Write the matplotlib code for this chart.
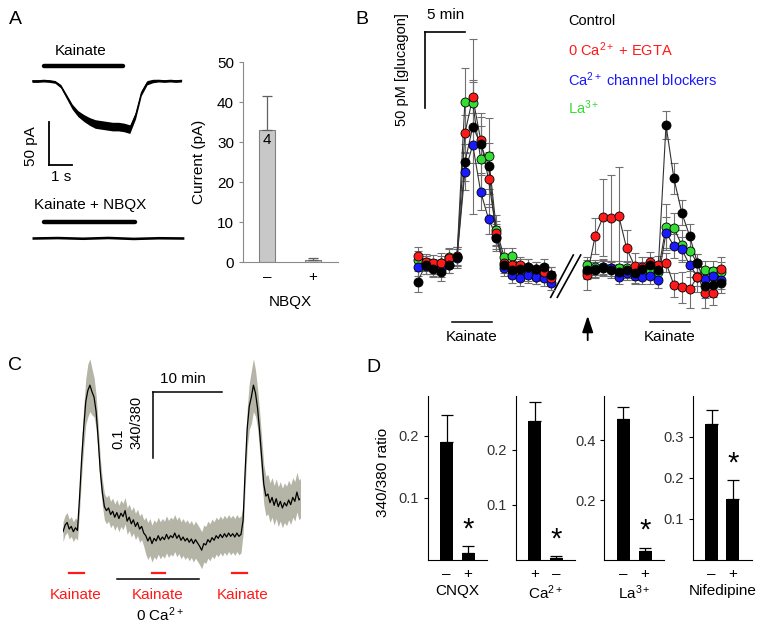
import numpy as np
import matplotlib
matplotlib.use('Agg')
import matplotlib.pyplot as plt

plt.rcParams['font.family'] = ['Liberation Sans', 'DejaVu Sans']
plt.rcParams['mathtext.fontset'] = 'custom'
plt.rcParams['mathtext.rm'] = 'Liberation Sans'
plt.rcParams['mathtext.it'] = 'Liberation Sans:italic'
plt.rcParams['mathtext.bf'] = 'Liberation Sans:bold'
plt.rcParams['font.size'] = 11

# ---- A: whole-cell current traces (s, pA) ----
a_t = [0, 0.25, 0.5, 0.75, 1.0, 1.25, 1.5, 1.75, 2.0, 2.25, 2.5, 2.75, 3.0, 3.25,
       3.5, 3.75, 4.0, 4.25, 4.5, 4.75, 5.0, 5.25, 5.5, 5.75, 6.0, 6.25, 6.5]
a_kai = [0, 0, 0.5, 0, -1, -6, -18, -30, -38, -43, -47, -50, -51, -52,
         -53, -53, -54, -56, -40, -14, -2, 0, 0.5, 0, 0.5, 0, 0.5]
a_kai_noise = [1.6, 1.6, 1.6, 1.6, 1.6, 2, 2.5, 3, 3.5, 4, 4.5, 5, 5, 5,
               5, 5, 5, 5, 4, 3, 2.5, 2, 1.6, 1.6, 1.6, 1.6, 1.6]
a_nbqx_t = [0, 1.1, 2.2, 3.3, 4.4, 5.5, 6.6]
a_nbqx = [0, 0.5, -0.3, 0.6, -0.5, 0.3, 0]
a_nbqx_noise = [1.5, 1.5, 1.5, 1.5, 1.5, 1.5, 1.5]

# A: summary bars
nbqx_labels = ['\u2013', '+']
nbqx_mean = [32.9, 0.6]
nbqx_err = [8.5, 0.3]

# ---- B: glucagon secretion (pM, baseline-relative) ----
b_ctrl_1 = [7.6, 18.5, 15.7, 14.1, 18.5, 23.9, 85.4, 108.7, 97.4, 83.3, 35.9, 18.5, 15.2, 15.7, 17.4, 15.7, 17.4, 12.0]
b_ctrl_2 = [15.2, 15.2, 16.3, 15.2, 14.1, 15.2, 13.5, 15.7, 18.5, 15.2, 109.8, 75.0, 52.6, 37.4, 19.6, 4.8, 5.4, 6.5]
b_ctrl_e1 = [7, 6, 5, 6, 5, 6, 12, 57, 20, 15, 8, 5, 5, 5, 5, 5, 5, 5]
b_ctrl_e2 = [5, 5, 5, 5, 5, 5, 5, 5, 5, 5, 9, 10, 8, 8, 6, 8, 8, 6]
b_egta_1 = [24.3, 20.7, 20.0, 19.6, 22.8, 24.3, 104.3, 127.8, 100.0, 74.3, 39.1, 19.6, 18.5, 18.5, 17.4, 15.7, 14.1, 9.8]
b_egta_2 = [12.0, 37.4, 49.6, 48.9, 50.4, 29.3, 18.0, 17.4, 20.7, 18.5, 20.0, 5.4, 3.9, 2.6, 10.9, 0.4, 0.4, 15.7]
b_egta_e1 = [6, 5, 5, 5, 6, 6, 12, 10, 15, 18, 8, 5, 5, 5, 5, 5, 5, 5]
b_egta_e2 = [10, 12, 25, 28, 32, 12, 8, 6, 6, 6, 6, 8, 10, 12, 10, 10, 8, 8]
b_blk_1 = [17.4, 17.8, 16.3, 15.7, 18.5, 22.8, 79.3, 96.7, 66.3, 48.5, 37.0, 16.3, 12.0, 9.8, 12.0, 10.9, 9.8, 7.0]
b_blk_2 = [14.1, 15.7, 17.0, 16.3, 10.9, 13.5, 11.3, 10.9, 11.3, 8.7, 39.6, 30.9, 28.7, 18.5, 10.9, 9.1, 11.3, 8.7]
b_blk_e1 = [6, 5, 5, 5, 5, 6, 12, 12, 12, 10, 8, 5, 5, 5, 5, 5, 5, 5]
b_blk_e2 = [5, 5, 5, 5, 5, 5, 5, 5, 5, 5, 10, 8, 8, 8, 6, 6, 6, 6]
b_la_1 = [21.7, 19.6, 17.4, 20.0, 23.5, 23.9, 125.0, 123.9, 87.4, 89.6, 41.3, 23.5, 24.3, 17.4, 13.0, 10.9, 13.0, 12.0]
b_la_2 = [18.5, 17.0, 17.4, 16.3, 16.3, 16.3, 12.0, 14.1, 15.2, 14.1, 43.5, 42.4, 31.5, 27.8, 19.6, 15.2, 14.8, 14.1]
b_la_e1 = [6, 5, 5, 6, 6, 6, 22, 15, 22, 25, 10, 6, 5, 5, 5, 5, 5, 5]
b_la_e2 = [5, 5, 5, 5, 5, 5, 5, 5, 5, 5, 15, 10, 10, 8, 6, 6, 6, 6]

# ---- C: Fura-2 340/380 ratio, sampled every 0.3 min ----
c_ratio = [0.058, 0.068, 0.072, 0.062, 0.066, 0.058, 0.064, 0.060, 0.110, 0.168,
           0.215, 0.255, 0.272, 0.280, 0.270, 0.262, 0.240, 0.198, 0.150, 0.118,
           0.096, 0.090, 0.094, 0.084, 0.089, 0.080, 0.087, 0.078, 0.086, 0.081,
           0.090, 0.074, 0.080, 0.070, 0.076, 0.066, 0.072, 0.062, 0.066, 0.056,
           0.052, 0.044, 0.050, 0.040, 0.048, 0.044, 0.052, 0.045, 0.050, 0.046,
           0.054, 0.047, 0.052, 0.049, 0.056, 0.048, 0.053, 0.045, 0.050, 0.044,
           0.048, 0.042, 0.047, 0.040, 0.046, 0.041, 0.036, 0.030, 0.040, 0.038,
           0.046, 0.042, 0.049, 0.045, 0.052, 0.048, 0.054, 0.049, 0.055, 0.050,
           0.056, 0.051, 0.055, 0.050, 0.056, 0.051, 0.054, 0.075, 0.150, 0.215,
           0.248, 0.262, 0.280, 0.268, 0.245, 0.210, 0.170, 0.130, 0.112, 0.115,
           0.102, 0.110, 0.098, 0.108, 0.096, 0.104, 0.094, 0.102, 0.097, 0.106,
           0.099, 0.110, 0.104, 0.118, 0.106, 0.110]
c_sem = ([0.015] * 8 + [0.02, 0.025, 0.03, 0.035, 0.04, 0.04, 0.035, 0.03, 0.025, 0.022]
         + [0.02] * 22 + [0.028] * 47 + [0.02, 0.025, 0.03, 0.035, 0.04, 0.04, 0.035, 0.03,
         0.03, 0.03] + [0.03] * 19)

# ---- D: peak 340/380 responses ----
d_names = ['CNQX', 'Ca$^{2+}$', 'La$^{3+}$', 'Nifedipine']
d_ticks = [['\u2013', '+'], ['+', '\u2013'], ['\u2013', '+'], ['\u2013', '+']]
d_means = [[0.191, 0.011], [0.253, 0.003], [0.469, 0.031], [0.332, 0.149]]
d_errs = [[0.043, 0.011], [0.035, 0.004], [0.040, 0.010], [0.035, 0.046]]
d_ymax = [0.2645, 0.298, 0.547, 0.40]
d_yticks = [[0.1, 0.2], [0.1, 0.2], [0.2, 0.4], [0.1, 0.2, 0.3]]

W, H = 762, 630
fig = plt.figure(figsize=(W / 100, H / 100), dpi=100)


def box(x0, y0, x1, y1):
    return fig.add_axes([x0 / W, 1 - y1 / H, (x1 - x0) / W, (y1 - y0) / H])


ov = box(0, 0, W, H)
ov.set_xlim(0, W)
ov.set_ylim(H, 0)
ov.axis('off')


def txt(x, y, s, **kw):
    kw.setdefault('ha', 'center')
    kw.setdefault('va', 'center')
    ov.text(x, y, s, **kw)


def seg(x0, y0, x1, y1, **kw):
    kw.setdefault('color', 'k')
    kw.setdefault('lw', 1.1)
    ov.plot([x0, x1], [y0, y1], **kw)


RED = '#ff1a1a'
BLUE = '#1a1aff'
GREEN = '#33dd33'

# ===== panel A =====
txt(15, 19, 'A', fontsize=14)
txt(81, 51, 'Kainate')
seg(44, 66, 123, 66, lw=3.2, solid_capstyle='round')
ax = box(32, 72, 185, 140)
ax.fill_between(a_t, np.subtract(a_kai, a_kai_noise), np.add(a_kai, a_kai_noise), color='k', lw=0)
ax.plot(a_t, a_kai, color='k', lw=0.8)
ax.set_xlim(0, 6.65)
ax.set_ylim(-68.6, 10.5)
ax.axis('off')
seg(49.3, 122, 49.3, 165, lw=1.3)
seg(49.3, 165, 72, 165, lw=1.3)
txt(31, 146, '50 pA', rotation=90)
txt(61, 177, '1 s')
txt(90, 205, 'Kainate + NBQX')
seg(44, 222, 135, 222, lw=3.2, solid_capstyle='round')
ax = box(32, 228, 185, 248)
ax.fill_between(a_nbqx_t, np.subtract(a_nbqx, a_nbqx_noise), np.add(a_nbqx, a_nbqx_noise), color='k', lw=0)
ax.set_xlim(0, 6.65)
ax.set_ylim(-11.6, 11.6)
ax.axis('off')

ax = box(243, 62, 338, 262)
ax.bar([0, 1], nbqx_mean, width=0.33, color='#c8c8c8', edgecolor='#808080', lw=0.8,
       yerr=[[0, 0], nbqx_err], error_kw=dict(ecolor='#606060', elinewidth=0.9, capsize=3.5, capthick=0.9))
ax.text(0, 30.6, '4', ha='center', va='center')
ax.set_xlim(-0.52, 1.54)
ax.set_ylim(0, 50)
ax.set_yticks(range(0, 51, 10))
ax.set_xticks([0, 1])
ax.set_xticklabels(nbqx_labels)
for s in ['top', 'right']:
    ax.spines[s].set_visible(False)
for s in ['left', 'bottom']:
    ax.spines[s].set_color('#8a8a8a')
ax.tick_params(axis='y', length=3, color='#8a8a8a', labelsize=11)
ax.tick_params(axis='x', length=0, pad=6, labelsize=11)
ax.set_xlabel('NBQX', fontsize=11, labelpad=8)
ax.set_ylabel('Current (pA)', fontsize=11, labelpad=8)
ax.patch.set_alpha(0)

# ===== panel B =====
txt(362, 20, 'B', fontsize=14)
seg(425, 32, 465, 32, lw=1.2)
seg(425, 32, 425, 108, lw=1.2)
txt(446, 15, '5 min')
txt(402, 70, '50 pM [glucagon]', rotation=90, fontsize=10.5)
txt(568, 21, 'Control', ha='left', fontsize=10.5)
txt(568, 50, '0 Ca$^{2+}$ + EGTA', ha='left', color=RED, fontsize=10.5)
txt(568, 80, 'Ca$^{2+}$ channel blockers', ha='left', color=BLUE, fontsize=10.5)
txt(568, 108, 'La$^{3+}$', ha='left', color=GREEN, fontsize=10.5)

axb = box(405, 30, 730, 320)
xs1 = np.arange(len(b_ctrl_1))
xs2 = 21.55 + np.arange(len(b_ctrl_2))
series = [(b_la_1, b_la_2, b_la_e1, b_la_e2, GREEN),
          (b_blk_1, b_blk_2, b_blk_e1, b_blk_e2, BLUE),
          (b_egta_1, b_egta_2, b_egta_e1, b_egta_e2, RED),
          (b_ctrl_1, b_ctrl_2, b_ctrl_e1, b_ctrl_e2, 'k')]
for k, (y1, y2, e1, e2, c) in enumerate(series):
    for xs, ys, es in [(xs1, y1, e1), (xs2, y2, e2)]:
        axb.errorbar(xs, ys, yerr=es, fmt='none', ecolor='#707070', elinewidth=0.8,
                     capsize=3, capthick=0.8, zorder=1)
        axb.plot(xs, ys, color='#333333', lw=0.8, zorder=2 + k)
        axb.plot(xs, ys, 'o', ms=6.5, mfc=c, mec='k', mew=0.6, zorder=6 + k)
axb.set_xlim(-1.61, 39.68)
axb.set_ylim(-17.4, 171.7)
axb.axis('off')

seg(550.7, 297.3, 573.3, 255, lw=1.2)
seg(557.3, 297.3, 580.7, 255, lw=1.2)
seg(452, 322, 492, 322, lw=1.1)
txt(472, 337, 'Kainate')
seg(650, 322, 690, 322, lw=1.1)
txt(670, 337, 'Kainate')
ov.annotate('', xy=(587.7, 313), xytext=(587.7, 343),
            arrowprops=dict(arrowstyle='-|>,head_length=0.9,head_width=0.3', color='k', lw=1.3))

# ===== panel C =====
txt(15, 365, 'C', fontsize=14)
c_t = np.arange(len(c_ratio)) * 0.3
axc = box(63, 350, 300, 570)
axc.fill_between(c_t, np.subtract(c_ratio, c_sem), np.add(c_ratio, c_sem), color='#b4b5a6', lw=0)
axc.plot(c_t, c_ratio, color='k', lw=0.9)
axc.set_xlim(0, 34.35)
axc.set_ylim(0, 0.3333)
axc.axis('off')
seg(153.3, 391.7, 153.3, 458.3, lw=1.1)
seg(153.3, 391.7, 221.7, 391.7, lw=1.1)
txt(183, 379, '10 min')
txt(118, 449, '0.1', rotation=90, va='bottom', fontsize=10.5)
txt(136, 449, '340/380', rotation=90, va='bottom', fontsize=10.5)
for xa, xb, xc in [(69, 84, 76), (152, 165, 158), (232, 247, 243)]:
    seg(xa, 573, xb, 573, color=RED, lw=1.6)
    txt(xc, 595, 'Kainate', color=RED)
seg(117, 579, 199, 579, lw=1.1)
txt(160, 615, '0 Ca$^{2+}$')

# ===== panel D =====
txt(373, 367, 'D', fontsize=14)
txt(383, 472, '340/380 ratio', rotation=90)
d_x = [(427.7, 487), (515.7, 575), (604.3, 664.3), (692.7, 751.7)]
for i in range(4):
    ax = box(d_x[i][0], 396, d_x[i][1], 560)
    ax.bar([0, 1], d_means[i], width=0.6, color='k',
           yerr=[[0, 0], d_errs[i]], error_kw=dict(ecolor='k', elinewidth=0.9, capsize=4, capthick=0.9))
    top = d_means[i][1] + d_errs[i][1]
    ax.annotate('*', xy=(1, top), xytext=(0, 2), textcoords='offset points',
                ha='center', va='bottom', fontsize=21)
    ax.set_xlim(-0.88, 1.88)
    ax.set_ylim(0, d_ymax[i])
    ax.set_yticks(d_yticks[i])
    ax.set_yticklabels(['%g' % v for v in d_yticks[i]])
    ax.set_xticks([0, 1])
    ax.set_xticklabels(d_ticks[i])
    ax.set_xlabel(d_names[i], fontsize=11, labelpad=2)
    for s in ['top', 'right']:
        ax.spines[s].set_visible(False)
    ax.tick_params(axis='y', length=3, labelsize=10.5, labelcolor='#333333')
    ax.tick_params(axis='x', length=0, pad=5, labelsize=11)
    ax.patch.set_alpha(0)

fig.savefig('out.png', dpi=100)
